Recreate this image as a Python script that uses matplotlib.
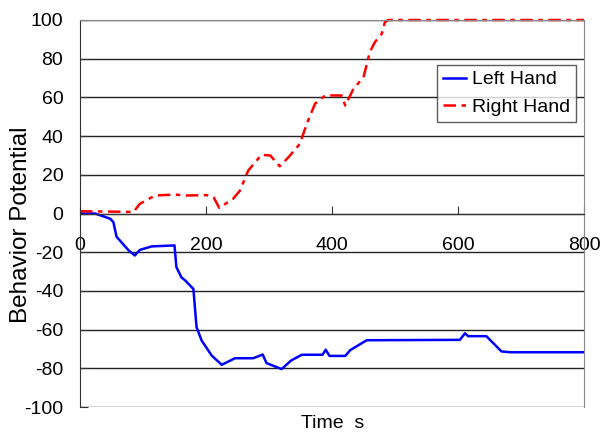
import matplotlib.pyplot as plt

plt.rcParams['font.family'] = ['Liberation Sans', 'DejaVu Sans']
plt.rcParams['axes.unicode_minus'] = False

# Left hand behaviour potential
left_t = [0, 24, 48, 53, 58, 77, 87, 95, 114, 150, 153, 161, 167, 180, 185, 193,
          209, 225, 246, 275, 290, 296, 320, 335, 352, 385, 390, 396, 421, 429,
          455, 603, 611, 616, 645, 656, 669, 683, 800]
left_v = [0, 0, -2.7, -4.5, -12, -19, -21.7, -18.8, -17, -16.5, -27.7, -33, -34.6,
          -39, -58.8, -65.6, -73.4, -78.2, -74.8, -74.8, -72.9, -77.3, -80.4, -76,
          -73, -73, -70.4, -73.6, -73.6, -70.6, -65.5, -65.3, -61.9, -63.4, -63.4,
          -67, -71.3, -71.7, -71.7]

# Right hand behaviour potential
right_t = [0, 85, 95, 119, 151, 167, 201, 212, 221, 243, 254, 267, 288, 302, 317,
           331, 349, 360, 373, 389, 415, 421, 434, 450, 460, 468, 479, 484, 489, 800]
right_v = [1.2, 0.8, 5, 9.3, 9.8, 9.3, 9.5, 8.4, 2.9, 7.6, 11.9, 22.2, 30.3, 30,
           24.4, 29.1, 36, 46.4, 56.7, 61, 61, 55.8, 64.4, 70.4, 83.4, 88.5, 92.9,
           98.9, 100, 100]

fig = plt.figure(figsize=(6.03, 4.32), dpi=100)
ax = fig.add_axes([80/603, 1-407/432, 504/603, 387/432])

ax.plot(left_t, left_v, color='#0000ff', lw=1.8, label='Left Hand')
ax.plot(right_t, right_v, color='#ff0000', lw=1.8, linestyle=(0, (5, 2.2, 1.8, 2.2)),
        label='Right Hand', clip_on=False)

ax.set_xlim(0, 800)
ax.set_ylim(-100, 100)
ax.set_xticks([0, 200, 400, 600, 800])
ax.set_yticks(range(-100, 101, 20))

ax.spines['bottom'].set_position(('data', 0))
ax.spines['bottom'].set_color('#333333')
ax.spines['left'].set_color('#333333')
ax.spines['top'].set_color('#888888')
ax.spines['right'].set_color('#888888')
ax.grid(axis='y', color='#222222', lw=1)
ax.set_axisbelow(True)

ax.tick_params(axis='both', direction='in', labelsize=14, length=6, color='#333333')
ax.tick_params(axis='x', pad=17)
ax.tick_params(axis='y', pad=12)

ax.set_ylabel('Behavior Potential', fontsize=17.5)
ax.yaxis.set_label_coords(-0.095, 0.47)
fig.text(333/603, 1-424/432, 'Time  s', fontsize=14, ha='center', va='center')

leg = ax.legend(loc='upper right', fontsize=14, frameon=True,
                fancybox=False, edgecolor='#333333', handlelength=1.2,
                borderpad=0.3, labelspacing=0.5, handletextpad=0.3,
                borderaxespad=0)
leg.set_bbox_to_anchor((576/603, 1-65/432), transform=fig.transFigure)
leg.get_frame().set_linewidth(1)

fig.savefig('out.png', dpi=100)
